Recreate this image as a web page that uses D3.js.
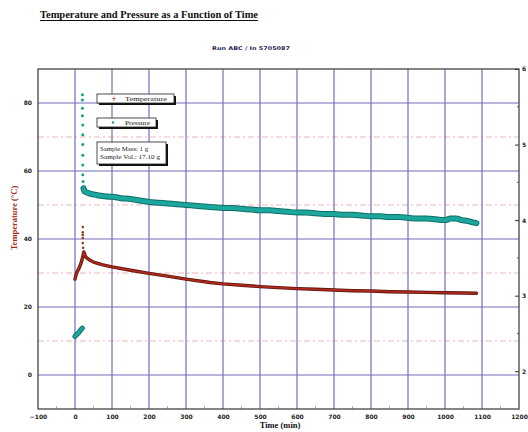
<!DOCTYPE html>
<html><head><meta charset="utf-8">
<script src="https://cdn.jsdelivr.net/npm/d3@7"></script>
<style>
html,body{margin:0;padding:0;background:#fff;}
svg{display:block;}
</style></head>
<body>
<svg id="chart" width="528" height="432"></svg>
<script>
// ---- data ----
const xTicks = [-100,0,100,200,300,400,500,600,700,800,900,1000,1100,1200];
const leftTicks = [0,20,40,60,80];
const leftMinor = [10,30,50,70];
const rightTicks = [2,3,4,5,6];
const rightMinor = [2.5,3.5,4.5,5.5];

// temperature (°C) vs time (min)
const tempTime = [0,3,6,10,14,18,21,24,27,30,40,50,75,100,150,200,250,300,365,400,450,500,550,600,650,700,750,800,850,900,950,1000,1050,1085];
const tempVal  = [28.2,29.5,30.4,31.2,32.2,33.5,34.8,36.2,35.2,34.6,33.8,33.2,32.4,31.8,30.8,29.9,29.1,28.2,27.2,26.8,26.4,26.0,25.7,25.4,25.2,25.0,24.8,24.7,24.5,24.4,24.3,24.2,24.1,24.05];
const tempSpikeTime = [21,21,21,21,21,22];
const tempSpikeVal  = [43.5,42.0,41.2,40.3,38.8,37.4];

// pressure vs time (right axis)
const presPreTime = [0,3,6,10,13,16,20];
const presPreVal  = [2.46,2.48,2.49,2.51,2.53,2.55,2.57];
const presSpikeTime = [20,20,20,20,21,21,21,21,21,21,22,22];
const presSpikeVal  = [5.66,5.59,5.48,5.38,5.26,5.13,5.00,4.86,4.73,4.60,4.51,4.44];
const presTime = [23,26,30,40,50,60,75,90,100,125,150,175,200,225,250,275,300,325,350,375,400,425,450,475,500,525,550,575,600,625,650,675,700,725,750,775,800,825,850,875,900,925,950,975,1000,1015,1030,1045,1060,1075,1085];
const presVal  = [4.42,4.38,4.37,4.35,4.34,4.33,4.32,4.31,4.31,4.29,4.28,4.26,4.24,4.23,4.22,4.21,4.20,4.19,4.18,4.17,4.16,4.16,4.15,4.14,4.13,4.13,4.12,4.11,4.10,4.10,4.09,4.08,4.08,4.07,4.07,4.06,4.05,4.05,4.04,4.04,4.03,4.02,4.02,4.01,4.00,4.02,4.02,4.00,3.99,3.97,3.96];

const titleText = "Temperature and Pressure as a Function of Time";
const subtitleText = "Run ABC / In 5705087";
const legendTemp = "Temperature";
const legendPres = "Pressure";
const infoLines = ["Sample Mass: 1 g", "Sample Vol.: 17.10 g"];
const xLabel = "Time (min)";
const yLabel = "Temperature (°C)";

// ---- scales ----
const L = 38, R = 519, T = 69, B = 409;
const x = d3.scaleLinear().domain([-100,1200]).range([L,R]);
const yL = d3.scaleLinear().domain([-10,90]).range([B,T]);
const yR = d3.scaleLinear().domain([1.5,6]).range([B,T]);

const svg = d3.select("#chart");
const serif = "'Liberation Serif','DejaVu Serif',serif";
const sans = "'DejaVu Sans','Liberation Sans',sans-serif";

// title
svg.append("text").attr("x",40).attr("y",18)
  .attr("font-family",serif).attr("font-weight","bold").attr("font-size",10)
  .attr("fill","#111").attr("textLength",218).attr("lengthAdjust","spacingAndGlyphs")
  .text(titleText);
svg.append("line").attr("x1",40).attr("x2",258).attr("y1",20.5).attr("y2",20.5)
  .attr("stroke","#111").attr("stroke-width",1.2);

svg.append("text").attr("x",251).attr("y",50).attr("text-anchor","middle")
  .attr("font-family",sans).attr("font-weight","bold").attr("font-size",5)
  .attr("fill","#1c2a55").attr("textLength",78).attr("lengthAdjust","spacingAndGlyphs")
  .text(subtitleText);

// pink minor dashed lines
svg.append("g").selectAll("line").data(leftMinor).join("line")
  .attr("x1",L).attr("x2",R).attr("y1",d=>yL(d)).attr("y2",d=>yL(d))
  .attr("stroke","#eba3a3").attr("stroke-width",0.8).attr("stroke-dasharray","6,3,2,3");

// grid
const grid = svg.append("g").attr("stroke","#5a55b0").attr("stroke-width",1.2).attr("opacity",0.85);
grid.selectAll("line.v").data(xTicks.filter(d=>d>-100 && d<1200)).join("line")
  .attr("x1",d=>x(d)).attr("x2",d=>x(d)).attr("y1",T).attr("y2",B);
grid.selectAll("line.h").data(leftTicks).join("line").attr("class","h")
  .attr("x1",L).attr("x2",R).attr("y1",d=>yL(d)).attr("y2",d=>yL(d));

// minor x ticks at bottom
svg.append("g").selectAll("line").data(d3.range(-50,1200,100)).join("line")
  .attr("x1",d=>x(d)).attr("x2",d=>x(d)).attr("y1",B).attr("y2",B-3)
  .attr("stroke","#999").attr("stroke-width",0.8);

// frame
svg.append("rect").attr("x",L).attr("y",T).attr("width",R-L).attr("height",B-T)
  .attr("fill","none").attr("stroke","#444").attr("stroke-width",1.3);

// axes
const xAxis = svg.append("g").attr("transform",`translate(0,${B})`)
  .call(d3.axisBottom(x).tickValues(xTicks).tickSize(0).tickPadding(6).tickFormat(d3.format("d")));
const lAxis = svg.append("g").attr("transform",`translate(${L},0)`)
  .call(d3.axisLeft(yL).tickValues(leftTicks).tickSize(0).tickPadding(6));
const rAxis = svg.append("g").attr("transform",`translate(${R},0)`)
  .call(d3.axisRight(yR).tickValues(rightTicks).tickSize(-4).tickPadding(3).tickFormat(d3.format("d")));
svg.append("g").selectAll("line").data(rightMinor).join("line")
  .attr("x1",R-2).attr("x2",R).attr("y1",d=>yR(d)).attr("y2",d=>yR(d)).attr("stroke","#555");
[xAxis,lAxis,rAxis].forEach(a=>{
  a.select(".domain").remove();
  a.selectAll("text").attr("font-family",sans).attr("font-weight","bold")
    .attr("font-size",6).attr("fill","#222");
  a.selectAll("line").attr("stroke","#333");
});

// axis labels
svg.append("text").attr("transform","translate(17,218) rotate(-90)").attr("text-anchor","middle")
  .attr("font-family",serif).attr("font-weight","bold").attr("font-size",8.5)
  .attr("fill","#a0281a").text(yLabel);
svg.append("text").attr("x",280).attr("y",428).attr("text-anchor","middle")
  .attr("font-family",serif).attr("font-weight","bold").attr("font-size",8.5)
  .attr("fill","#111").text(xLabel);

// pressure series
const presPre = presPreTime.map((t,i)=>[t,presPreVal[i]]);
const presMain = presTime.map((t,i)=>[t,presVal[i]]);
const lineR = d3.line().x(d=>x(d[0])).y(d=>yR(d[1])).curve(d3.curveMonotoneX);
[[presPre,4],[presMain,5]].forEach(([dat,w])=>{
  svg.append("path").datum(dat).attr("d",lineR).attr("fill","none")
    .attr("stroke","#0f6f69").attr("stroke-width",w+1).attr("stroke-linecap","round");
  svg.append("path").datum(dat).attr("d",lineR).attr("fill","none")
    .attr("stroke","#1ba79c").attr("stroke-width",w-1).attr("stroke-linecap","round");
});
svg.append("g").selectAll("circle").data(presSpikeTime.map((t,i)=>[t,presSpikeVal[i]])).join("circle")
  .attr("cx",d=>x(d[0])).attr("cy",d=>yR(d[1])).attr("r",1.5).attr("fill","#1a9a90");

// temperature series
const temp = tempTime.map((t,i)=>[t,tempVal[i]]);
const lineL = d3.line().x(d=>x(d[0])).y(d=>yL(d[1]));
svg.append("path").datum(temp).attr("d",lineL).attr("fill","none")
  .attr("stroke","#5a1410").attr("stroke-width",3.4).attr("stroke-linejoin","round").attr("stroke-linecap","round");
svg.append("path").datum(temp).attr("d",lineL).attr("fill","none")
  .attr("stroke","#b02a1c").attr("stroke-width",1.8).attr("stroke-linejoin","round").attr("stroke-linecap","round");
svg.append("g").selectAll("circle").data(tempSpikeTime.map((t,i)=>[t,tempSpikeVal[i]])).join("circle")
  .attr("cx",d=>x(d[0])).attr("cy",d=>yL(d[1])).attr("r",1.3).attr("fill","#9a3a2a");

// legend boxes
function box(x0,y0,w,h){
  svg.append("rect").attr("x",x0+2).attr("y",y0+2).attr("width",w).attr("height",h).attr("fill","#111");
  svg.append("rect").attr("x",x0).attr("y",y0).attr("width",w).attr("height",h)
    .attr("fill","#fff").attr("stroke","#222").attr("stroke-width",0.8);
}
box(97,94,77,9);
svg.append("text").attr("x",114).attr("y",101).attr("text-anchor","middle").attr("font-size",7)
  .attr("font-family",sans).attr("fill","#b02a1c").text("+");
svg.append("text").attr("x",125).attr("y",101).attr("font-family",serif).attr("font-size",6)
  .attr("fill","#222").attr("textLength",42).attr("lengthAdjust","spacingAndGlyphs").text(legendTemp);
box(97,118,59,9);
svg.append("circle").attr("cx",113).attr("cy",122.5).attr("r",1.2).attr("fill","#1a9a90");
svg.append("text").attr("x",125).attr("y",125).attr("font-family",serif).attr("font-size",6)
  .attr("fill","#222").attr("textLength",25).attr("lengthAdjust","spacingAndGlyphs").text(legendPres);
box(97,142,69,22);
svg.append("text").attr("x",100).attr("y",151).attr("font-family",serif).attr("font-size",6)
  .attr("fill","#222").attr("textLength",48).attr("lengthAdjust","spacingAndGlyphs").text(infoLines[0]);
svg.append("text").attr("x",100).attr("y",159).attr("font-family",serif).attr("font-size",6)
  .attr("fill","#222").attr("textLength",60).attr("lengthAdjust","spacingAndGlyphs").text(infoLines[1]);
</script>
</body></html>
